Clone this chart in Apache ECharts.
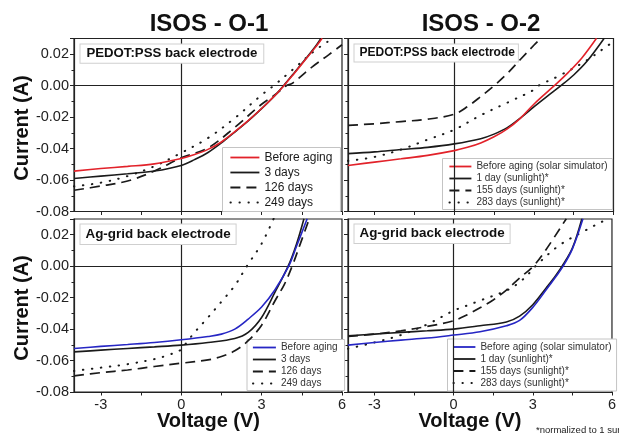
<!DOCTYPE html>
<html>
<head>
<meta charset="utf-8">
<script src="https://cdn.jsdelivr.net/npm/echarts@6/dist/echarts.min.js"></script>
<style>
  html, body { margin: 0; padding: 0; background: #fff; }
  #chart { width: 619px; height: 435px; }
</style>
</head>
<body>
<div id="chart"></div>
<script>
// J–V curves of aged solar cells, [voltage (V), current (A)]

// ISOS-O-1, PEDOT:PSS back electrode
const o1PedotBefore = [[-4,-0.0543],[-3,-0.0527],[-2,-0.0513],[-1,-0.0497],[0,-0.0463],[0.5,-0.0438],[1,-0.0405],[1.5,-0.0358],[2,-0.0292],[2.5,-0.0222],[3,-0.0145],[3.5,-0.0062],[3.83,0],[4.2,0.0075],[4.6,0.0158],[5,0.0242],[5.26,0.0302]];
const o1Pedot3d = [[-4,-0.059],[-3,-0.0575],[-2,-0.056],[-1,-0.0543],[0,-0.0507],[0.5,-0.047],[1,-0.0425],[1.5,-0.0364],[2,-0.0295],[2.5,-0.0224],[3,-0.0146],[3.5,-0.0062],[3.82,0],[4.2,0.0078],[4.6,0.0162],[5,0.0248],[5.22,0.0302]];
const o1Pedot126d = [[-4,-0.0665],[-3,-0.0638],[-2,-0.0606],[-1,-0.0543],[0,-0.0459],[1,-0.0396],[2,-0.0265],[3,-0.0118],[3.5,-0.0058],[3.92,0],[4.14,0.0015],[4.89,0.012],[5.5,0.0196],[6,0.026]];
const o1Pedot249d = [[-4,-0.064],[-3,-0.0617],[-2,-0.0575],[-1,-0.0512],[0,-0.0427],[1,-0.0333],[2,-0.0206],[3,-0.0059],[3.45,0],[4.14,0.0099],[5,0.0225],[5.45,0.0278],[5.65,0.0302]];

// ISOS-O-2, PEDOT:PSS back electrode
const o2PedotBefore = [[-4,-0.0507],[-3,-0.0486],[-2,-0.0465],[-1,-0.0443],[0,-0.0413],[0.5,-0.0392],[1,-0.0364],[1.5,-0.0325],[2,-0.0275],[2.5,-0.0206],[3,-0.0118],[3.77,0],[4.3,0.0085],[4.8,0.0175],[5.36,0.0302]];
const o2Pedot1d = [[-4,-0.0432],[-3,-0.0421],[-2,-0.0406],[-1,-0.0392],[0,-0.037],[1,-0.0337],[1.5,-0.0308],[2,-0.0267],[2.5,-0.0205],[3,-0.0135],[3.5,-0.0068],[4.02,0],[4.5,0.0068],[5,0.0155],[5.65,0.0302]];
const o2Pedot155d = [[-4,-0.0253],[-3,-0.0242],[-2,-0.0228],[-1,-0.0213],[0,-0.0181],[0.5,-0.0133],[1,-0.0069],[1.5,0],[2,0.0078],[2.5,0.0168],[3,0.0257],[3.27,0.0302]];
const o2Pedot283d = [[-4,-0.0478],[-3,-0.0453],[-2,-0.0406],[-1,-0.0343],[0,-0.028],[1,-0.0188],[2,-0.0108],[3,-0.0027],[3.18,0],[4,0.0067],[5,0.0162],[5.8,0.0257],[6,0.028]];

// ISOS-O-1, Ag-grid back electrode
const o1AgBefore = [[-4,-0.0523],[-3,-0.051],[-2,-0.0498],[-1,-0.0485],[0,-0.0468],[1,-0.0447],[1.5,-0.0432],[2,-0.04],[2.5,-0.0336],[3,-0.026],[3.5,-0.015],[4.01,0],[4.3,0.0125],[4.7,0.0302]];
const o1Ag3d = [[-4,-0.0545],[-3,-0.0534],[-2,-0.0523],[-1,-0.0513],[0,-0.0502],[1,-0.0485],[2,-0.046],[2.5,-0.0421],[3,-0.0326],[3.5,-0.0165],[3.99,0],[4.3,0.014],[4.58,0.0302]];
const o1Ag126d = [[-4,-0.0698],[-3,-0.0677],[-2,-0.066],[-1,-0.0638],[0,-0.0617],[1,-0.0596],[1.5,-0.0574],[2,-0.0538],[2.5,-0.0474],[3,-0.0375],[3.5,-0.022],[3.85,-0.0115],[4.14,0],[4.45,0.0145],[4.78,0.0302]];
const o1Ag249d = [[-4,-0.0666],[-3,-0.0645],[-2,-0.0623],[-1,-0.0591],[-0.5,-0.0566],[0,-0.053],[0.2,-0.0485],[0.5,-0.0421],[1,-0.0326],[1.5,-0.0226],[2,-0.0123],[2.45,0],[3,0.0143],[3.45,0.0302]];

// ISOS-O-2, Ag-grid back electrode
const o2AgBefore = [[-4,-0.0502],[-3,-0.0485],[-2,-0.047],[-1,-0.0457],[0,-0.0438],[1,-0.0417],[2,-0.0379],[2.5,-0.0345],[3,-0.0262],[3.5,-0.0152],[3.85,-0.0072],[4.15,0],[4.5,0.011],[4.9,0.0302]];
const o2Ag1d = [[-4,-0.0443],[-3,-0.0432],[-2,-0.0421],[-1,-0.0411],[0,-0.04],[1,-0.0379],[2,-0.0355],[2.5,-0.0318],[3,-0.0245],[3.5,-0.014],[3.8,-0.0075],[4.11,0],[4.5,0.0115],[4.86,0.0302]];
const o2Ag155d = [[-4,-0.0447],[-3,-0.0432],[-2,-0.0411],[-1,-0.0383],[0,-0.0347],[0.5,-0.031],[1,-0.0265],[1.5,-0.0215],[2,-0.0152],[2.5,-0.0075],[3.02,0],[3.5,0.0105],[4.27,0.0302]];
const o2Ag283d = [[-4,-0.0525],[-3,-0.0485],[-2,-0.0438],[-1,-0.037],[0,-0.0283],[0.5,-0.0251],[1,-0.0219],[2,-0.0155],[2.5,-0.0102],[3,-0.0021],[3.1,0],[4,0.0132],[5,0.0228],[5.6,0.0281],[5.9,0.0302]];

// Legend texts
const legendO1 = ['Before aging', '3 days', '126 days', '249 days'];
const legendO2 = ['Before aging (solar simulator)', '1 day (sunlight)*', '155 days (sunlight)*', '283 days (sunlight)*'];

// Axis ticks
const xLabelValues = [-3, 0, 3, 6];
const xTickValues = [-3, -1.5, 0, 1.5, 3, 4.5, 6];

const FONT = "'Liberation Sans', Arial, Helvetica, sans-serif";
const INK = '#1a1a1a';
const RED = '#e2222a';
const BLUE = '#2626c4';

const panels = [
  { key: 'o1p', grid: { left: 74, top: 38.5, width: 268, height: 173 }, curves: [o1PedotBefore, o1Pedot3d, o1Pedot126d, o1Pedot249d], labels: legendO1, first: RED, xLabels: false, yLabels: true,
    legend: { left: 222.5, top: 147.5, padding: [4, 8, 3, 7], itemWidth: 29, itemHeight: 12, itemGap: 3, fontSize: 12, color: '#1a1a1a' } },
  { key: 'o2p', grid: { left: 348, top: 38.5, width: 265.5, height: 173 }, curves: [o2PedotBefore, o2Pedot1d, o2Pedot155d, o2Pedot283d], labels: legendO2, first: RED, xLabels: false, yLabels: false,
    legend: { left: 442.5, top: 158.5, padding: [3, 5, 2, 6], itemWidth: 22, itemHeight: 10, itemGap: 2, fontSize: 10, color: '#333' } },
  { key: 'o1a', grid: { left: 74, top: 219, width: 268, height: 173 }, curves: [o1AgBefore, o1Ag3d, o1Ag126d, o1Ag249d], labels: legendO1, first: BLUE, xLabels: true, yLabels: true,
    legend: { left: 247, top: 339.5, padding: [3, 7, 2, 5], itemWidth: 23, itemHeight: 10, itemGap: 2, fontSize: 10, color: '#333' } },
  { key: 'o2a', grid: { left: 348, top: 219, width: 265.5, height: 173 }, curves: [o2AgBefore, o2Ag1d, o2Ag155d, o2Ag283d], labels: legendO2, first: BLUE, xLabels: true, yLabels: false,
    legend: { left: 447.5, top: 339, padding: [3, 5, 3, 5], itemWidth: 22, itemHeight: 10, itemGap: 2, fontSize: 10, color: '#333' } }
];

function lineStyleFor(k, firstColor) {
  if (k === 0) return { color: firstColor, width: 1.6, type: 'solid' };
  if (k === 1) return { color: INK, width: 1.6, type: 'solid' };
  if (k === 2) return { color: INK, width: 1.7, type: [10, 6] };
  return { color: INK, width: 2, type: [0.5, 8.5], cap: 'round' };
}

const grids = [], xAxes = [], yAxes = [], series = [], legends = [];

panels.forEach((p, i) => {
  grids.push(Object.assign({ show: true, borderColor: '#222', borderWidth: 1.2, backgroundColor: 'transparent' }, p.grid));

  xAxes.push({
    type: 'value', gridIndex: i, min: -4, max: 6,
    axisLine: { show: true, onZero: false, lineStyle: { color: '#222', width: 1.2 } },
    axisTick: { show: true, length: 3.5, customValues: xTickValues, lineStyle: { color: '#222' } },
    axisLabel: { show: p.xLabels, customValues: xLabelValues, margin: 5, color: '#222', fontSize: 14.5, fontFamily: FONT },
    splitLine: { show: false }
  });

  yAxes.push({
    type: 'value', gridIndex: i, min: -0.08, max: 0.03, interval: 0.02,
    axisLine: { show: true, onZero: false, lineStyle: { color: '#222', width: 1.2 } },
    axisTick: { show: true, length: 4, lineStyle: { color: '#222' } },
    minorTick: { show: true, splitNumber: 2, length: 2.5, lineStyle: { color: '#222' } },
    axisLabel: { show: p.yLabels, showMaxLabel: false, margin: 5, color: '#222', fontSize: 14.5, fontFamily: FONT,
      formatter: v => v.toFixed(2) },
    splitLine: { show: false }
  });

  const names = [];
  p.curves.forEach((data, k) => {
    const name = p.key + '|' + p.labels[k];
    names.push(name);
    const ls = lineStyleFor(k, p.first);
    const s = {
      type: 'line', name, xAxisIndex: i, yAxisIndex: i, data,
      symbol: 'none', smooth: 0.35, color: ls.color, lineStyle: ls,
      z: 3 + (3 - k), silent: true
    };
    if (k === 0) {
      // zero-voltage and zero-current reference lines
      s.markLine = {
        silent: true, symbol: ['none', 'none'], label: { show: false },
        lineStyle: { color: '#222', width: 1.2, type: 'solid' },
        emphasis: { disabled: true },
        data: [{ xAxis: 0 }, { yAxis: 0 }]
      };
    }
    series.push(s);
  });

  const L = p.legend;
  legends.push({
    data: names, orient: 'vertical', left: L.left, top: L.top, padding: L.padding,
    itemWidth: L.itemWidth, itemHeight: L.itemHeight, itemGap: L.itemGap, itemTextGap: 2,
    backgroundColor: '#fff', borderColor: '#c4c4c4', borderWidth: 1, borderRadius: 0,
    selectedMode: false,
    itemStyle: { opacity: 0 },
    lineStyle: { width: 1.8 },
    formatter: n => n.split('|')[1],
    textStyle: { fontFamily: FONT, fontSize: L.fontSize, lineHeight: L.itemHeight, color: L.color }
  });
});

function txt(x, y, text, size, opts) {
  return Object.assign({
    type: 'text', x, y, silent: true,
    style: Object.assign({ text, fill: '#111', font: (opts && opts.weight || 'bold') + ' ' + size + 'px ' + FONT,
      textAlign: 'center', textVerticalAlign: 'middle' }, opts && opts.style)
  }, opts && opts.el);
}

function boxed(x, y, text, size, padding) {
  return {
    type: 'text', x, y, silent: true, z: 10,
    style: {
      text, fill: '#111', font: 'bold ' + size + 'px ' + FONT,
      textAlign: 'left', textVerticalAlign: 'top', lineHeight: size + 1,
      padding, backgroundColor: '#fff', borderColor: '#cfcfcf', borderWidth: 1
    }
  };
}

const graphics = [
  txt(209, 24, 'ISOS - O-1', 24),
  txt(481, 24, 'ISOS - O-2', 24),
  txt(22, 128, 'Current (A)', 20, { el: { rotation: Math.PI / 2 } }),
  txt(22, 308, 'Current (A)', 20, { el: { rotation: Math.PI / 2 } }),
  txt(208.5, 421, 'Voltage (V)', 20),
  txt(470, 421, 'Voltage (V)', 20),
  txt(536, 430, '*normalized to 1 sun', 9.5, { weight: 'normal', style: { textAlign: 'left', fill: '#222' } }),
  boxed(80.5, 44.5, 'PEDOT:PSS back electrode', 13.2, [2, 6, 2, 6]),
  boxed(354.5, 44.5, 'PEDOT:PSS back electrode', 12, [2, 3, 2, 5]),
  boxed(80.5, 224.5, 'Ag-grid back electrode', 13.4, [3, 5, 2, 5]),
  boxed(354.5, 224.5, 'Ag-grid back electrode', 13.4, [2, 5, 2, 5])
];

const chart = echarts.init(document.getElementById('chart'), null, { renderer: 'canvas' });
chart.setOption({
  animation: false,
  backgroundColor: '#fff',
  textStyle: { fontFamily: FONT },
  grid: grids,
  xAxis: xAxes,
  yAxis: yAxes,
  legend: legends,
  series,
  graphic: graphics
});
</script>
</body>
</html>
